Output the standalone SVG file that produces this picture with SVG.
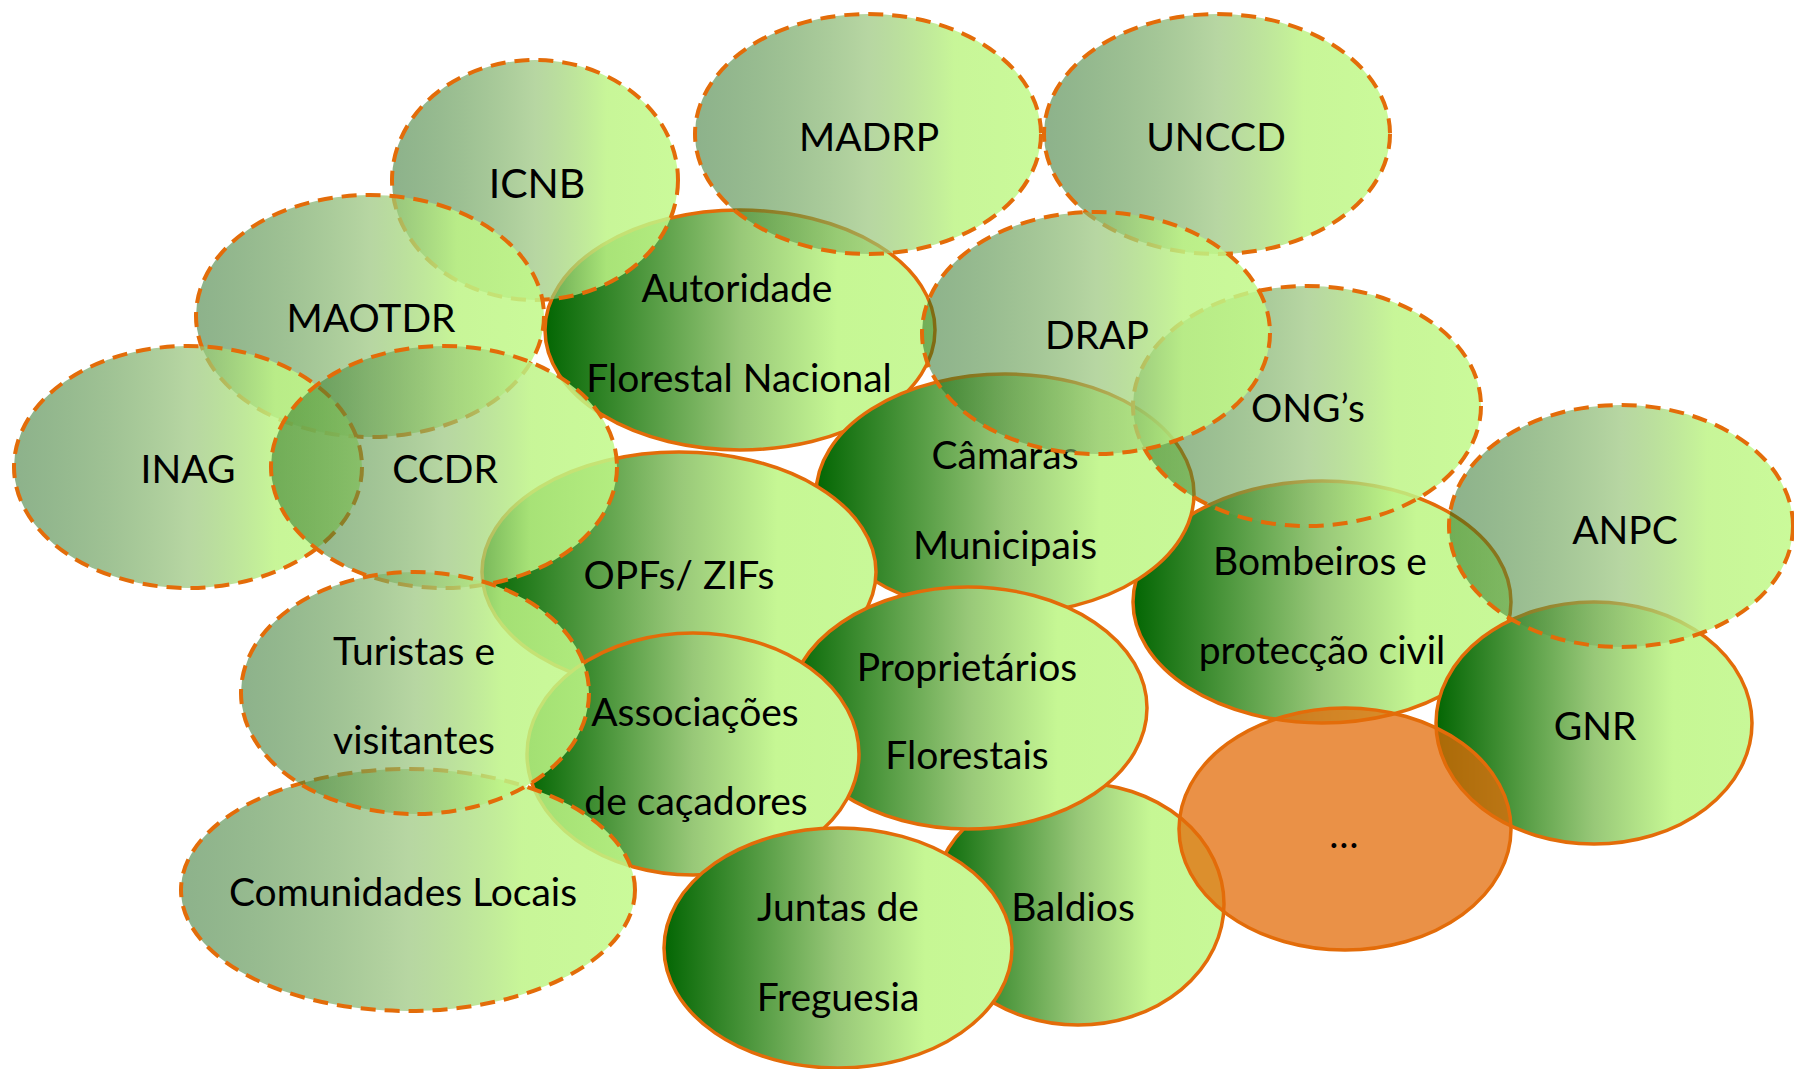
<svg xmlns="http://www.w3.org/2000/svg" width="1794" height="1069" viewBox="0 0 1794 1069">
<defs>
<linearGradient id="gs" x1="0" y1="0" x2="1" y2="0">
<stop offset="0" stop-color="#036603"/>
<stop offset="0.5" stop-color="#98c878"/>
<stop offset="0.75" stop-color="#c6f794"/>
<stop offset="1" stop-color="#c8f898"/>
</linearGradient>
<linearGradient id="gd" x1="0" y1="0" x2="1" y2="0">
<stop offset="0" stop-color="#1b6517" stop-opacity="0.5"/>
<stop offset="0.5" stop-color="#90c070" stop-opacity="0.65"/>
<stop offset="0.75" stop-color="#bef486" stop-opacity="0.85"/>
<stop offset="1" stop-color="#c1f988" stop-opacity="0.85"/>
</linearGradient>
<style>
.s{fill:url(#gs);stroke:#E36C09;stroke-width:3.5}
.d{fill:url(#gd);stroke:#E36C09;stroke-width:4;stroke-dasharray:15 9}
.o{fill:#E36C09;fill-opacity:0.75;stroke:#E36C09;stroke-width:3.5}
text{font-family:Lato,"Liberation Sans",sans-serif;font-size:39px;fill:#000;text-anchor:middle}
</style>
</defs>
<g id="connectors"/>
<g id="autoridade"><ellipse class="s" cx="740" cy="330" rx="195" ry="120"/><text x="737" y="302">Autoridade</text><text x="739" y="392">Florestal Nacional</text></g>
<g id="bombeiros"><ellipse class="s" cx="1322" cy="602" rx="189" ry="121"/><text x="1320" y="575">Bombeiros e</text><text x="1322" y="664">protecção civil</text></g>
<g id="camaras"><ellipse class="s" cx="1005" cy="494" rx="189" ry="120"/><text x="1005" y="469">Câmaras</text><text x="1005" y="559">Municipais</text></g>
<g id="opfs"><ellipse class="s" cx="679" cy="572" rx="197" ry="120"/><text x="679" y="589">OPFs/ ZIFs</text></g>
<g id="baldios"><ellipse class="s" cx="1078" cy="904" rx="146" ry="121"/><text x="1073" y="921">Baldios</text></g>
<g id="proprietarios"><ellipse class="s" cx="968" cy="708" rx="179" ry="121"/><text x="967" y="681">Proprietários</text><text x="967" y="769">Florestais</text></g>
<g id="associacoes"><ellipse class="s" cx="693" cy="754" rx="166" ry="121"/><text x="695" y="726">Associações</text><text x="696" y="815">de caçadores</text></g>
<g id="gnr"><ellipse class="s" cx="1594" cy="723" rx="158" ry="121"/><text x="1595" y="740">GNR</text></g>
<g id="juntas"><ellipse class="s" cx="838" cy="948" rx="174" ry="120"/><text x="838" y="921">Juntas de</text><text x="838" y="1011">Freguesia</text></g>
<g id="outros"><ellipse class="o" cx="1345" cy="829" rx="166" ry="121"/><text x="1344" y="848">…</text></g>
<g id="icnb"><ellipse class="d" cx="535" cy="180" rx="143" ry="120"/><text x="537" y="198" style="font-size:41px">ICNB</text></g>
<g id="maotdr"><ellipse class="d" cx="370" cy="316" rx="174" ry="121"/><text x="371" y="332">MAOTDR</text></g>
<g id="inag"><ellipse class="d" cx="188" cy="467" rx="174" ry="121"/><text x="188" y="483">INAG</text></g>
<g id="ccdr"><ellipse class="d" cx="444" cy="467" rx="173" ry="121"/><text x="445" y="483">CCDR</text></g>
<g id="comunidades"><ellipse class="d" cx="408" cy="890" rx="227" ry="121"/><text x="403" y="906">Comunidades Locais</text></g>
<g id="turistas"><ellipse class="d" cx="415" cy="693" rx="174" ry="121"/><text x="414" y="665">Turistas e</text><text x="414" y="754">visitantes</text></g>
<g id="madrp"><ellipse class="d" cx="868" cy="134" rx="173" ry="120"/><text x="869" y="151">MADRP</text></g>
<g id="unccd"><ellipse class="d" cx="1217" cy="134" rx="173" ry="120"/><text x="1216" y="151">UNCCD</text></g>
<g id="ongs"><ellipse class="d" cx="1307" cy="406" rx="174" ry="120"/><text x="1308" y="422">ONG’s</text></g>
<g id="drap"><ellipse class="d" cx="1096" cy="333" rx="174" ry="121"/><text x="1097" y="349">DRAP</text></g>
<g id="anpc"><ellipse class="d" cx="1621" cy="526" rx="172" ry="121"/><text x="1625" y="544">ANPC</text></g>
</svg>
